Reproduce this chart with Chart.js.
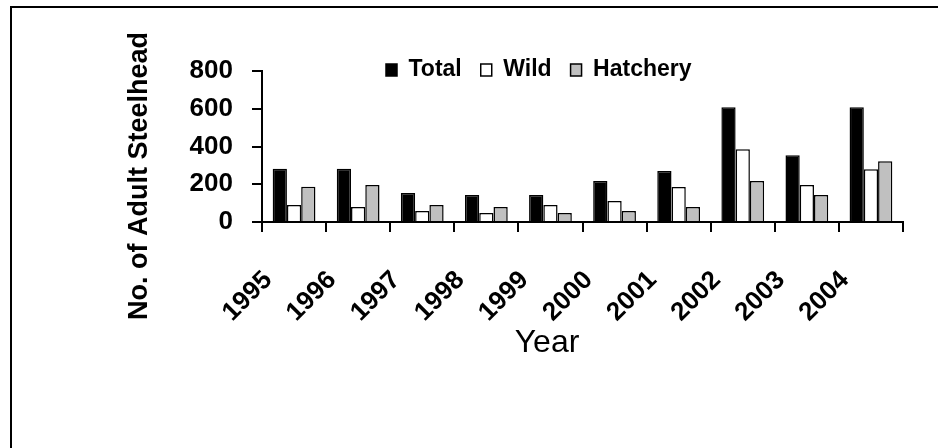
<!DOCTYPE html>
<html>
<head>
<meta charset="utf-8">
<script src="https://cdn.jsdelivr.net/npm/chart.js@4"></script>
<style>
    html, body { margin: 0; padding: 0; background: #fff; }
    #quadro { position: relative; width: 938px; height: 448px; overflow: hidden; }
    #moldura {
        position: absolute; left: 10px; top: 6px; right: -4px; bottom: -4px;
        border-left: 2px solid #000; border-top: 2px solid #000;
    }
    #grafico-steelhead { position: absolute; left: 0; top: 0; }
</style>
</head>
<body>
<div id="quadro">
    <div id="moldura"></div>
    <canvas id="grafico-steelhead" width="938" height="448"></canvas>
</div>
<script>
// Adult steelhead counts per return year
const anos     = ['1995', '1996', '1997', '1998', '1999', '2000', '2001', '2002', '2003', '2004'];
const total    = [282, 282, 153, 143, 143, 217, 270, 608, 354, 608];
const wild     = [90, 79, 58, 48, 90, 111, 185, 386, 196, 280];
const hatchery = [187, 196, 90, 79, 48, 58, 79, 217, 143, 322];
const ticksY   = [0, 200, 400, 600, 800];

const FONTE = '"Liberation Sans", Arial, sans-serif';
Chart.defaults.font.family = FONTE;
Chart.defaults.color = '#000';

// Legend row is pulled down into the plot, left of centre
const posicionaLegenda = {
    id: 'posicionaLegenda',
    beforeDraw(chart) {
        const lg   = chart.legend;
        const area = chart.chartArea;
        const w = lg.width, h = lg.height;
        lg.left   = area.left + 124 - lg.options.labels.padding;
        lg.right  = lg.left + w;
        lg.top    = area.top - 31.5;
        lg.bottom = lg.top + h;
    }
};

// Axis titles drawn off-centre from the axes
const titulosEixos = {
    id: 'titulosEixos',
    afterDraw(chart) {
        const { ctx, chartArea } = chart;
        ctx.save();
        ctx.fillStyle    = '#000';
        ctx.textAlign    = 'center';
        ctx.textBaseline = 'middle';

        ctx.save();
        ctx.font = `bold 27px ${FONTE}`;
        ctx.translate(chartArea.left - 122, chartArea.bottom - 46);
        ctx.rotate(-Math.PI / 2);
        ctx.fillText('No. of Adult Steelhead', 0, 0);
        ctx.restore();

        ctx.font = `32px ${FONTE}`;
        ctx.fillText('Year', chartArea.left + 285, chartArea.bottom + 121);
        ctx.restore();
    }
};

new Chart(document.getElementById('grafico-steelhead'), {
    type: 'bar',
    data: {
        labels: anos,
        datasets: [
            { label: 'Total',    data: total,    backgroundColor: '#000000', borderColor: '#000', borderWidth: 1.5 },
            { label: 'Wild',     data: wild,     backgroundColor: '#ffffff', borderColor: '#000', borderWidth: 1.5 },
            { label: 'Hatchery', data: hatchery, backgroundColor: '#c0c0c0', borderColor: '#000', borderWidth: 1.5 }
        ]
    },
    options: {
        responsive: false,
        devicePixelRatio: 1,
        animation: false,
        events: [],
        datasets: { bar: { categoryPercentage: 0.667, barPercentage: 1.0 } },
        // legend box (52px) + 19px puts the 800 line at y=71
        layout: { padding: { top: 19, right: 35, bottom: 0, left: 0 } },
        plugins: {
            tooltip: { enabled: false },
            legend: {
                position: 'top',
                align: 'start',
                labels: {
                    color: '#000',
                    boxWidth: 11,
                    boxHeight: 12,
                    padding: 19,
                    font: { size: 23, weight: 'bold' }
                }
            }
        },
        scales: {
            x: {
                border: { display: true, color: '#000', width: 2 },
                grid: { offset: true, drawOnChartArea: false, drawTicks: true, tickLength: 10, color: '#000', lineWidth: 2 },
                ticks: {
                    color: '#000',
                    font: { size: 26, weight: 'bold' },
                    minRotation: 45,
                    maxRotation: 45,
                    autoSkip: false,
                    padding: 33,
                    labelOffset: -26
                },
                afterFit(scale) { scale.height = 226; }
            },
            y: {
                min: 0,
                max: 800,
                border: { display: true, color: '#000', width: 2 },
                grid: { drawOnChartArea: false, drawTicks: true, tickLength: 10, color: '#000', lineWidth: 2 },
                afterBuildTicks(scale) { scale.ticks = ticksY.map(v => ({ value: v })); },
                ticks: {
                    color: '#000',
                    padding: 19,
                    font: { size: 26, weight: 'bold' }
                },
                afterFit(scale) { scale.width = 262; }
            }
        }
    },
    plugins: [posicionaLegenda, titulosEixos]
});
</script>
</body>
</html>
